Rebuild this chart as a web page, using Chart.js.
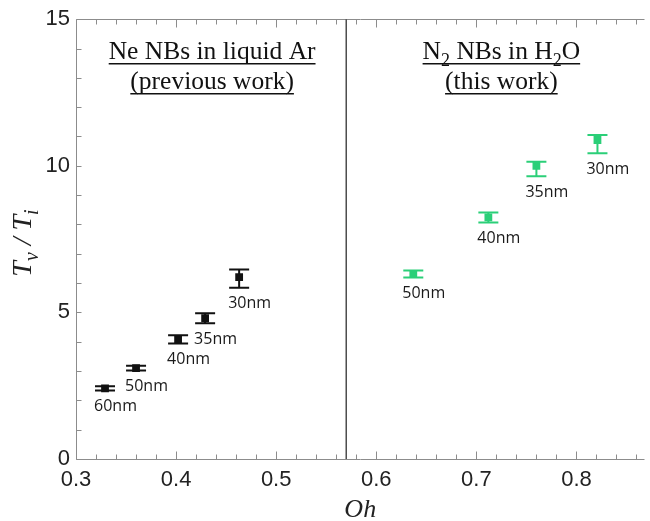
<!DOCTYPE html>
<html>
<head>
<meta charset="utf-8">
<script src="https://cdn.jsdelivr.net/npm/chart.js@4.4.0/dist/chart.umd.min.js"></script>
<style>
  html, body { margin: 0; padding: 0; background: #fff; }
  #wrap { width: 650px; height: 521px; }
</style>
</head>
<body>
<div id="wrap"><canvas id="plot"></canvas></div>
<script>
// Ne NBs in liquid Ar (previous work)
const prevOh = [0.329, 0.360, 0.402, 0.429, 0.463]
const prevRatio = [2.41, 3.10, 4.08, 4.80, 6.20]
const prevErrUp = [0.07, 0.08, 0.14, 0.17, 0.26]
const prevErrDown = [0.07, 0.08, 0.14, 0.17, 0.36]
const prevSize = ['60nm', '50nm', '40nm', '35nm', '30nm']

// N2 NBs in H2O (this work)
const thisOh = [0.637, 0.712, 0.760, 0.821]
const thisRatio = [6.31, 8.24, 10.00, 10.88]
const thisErrUp = [0.12, 0.17, 0.14, 0.17]
const thisErrDown = [0.12, 0.17, 0.36, 0.45]
const thisSize = ['50nm', '40nm', '35nm', '30nm']

const xTicks = [0.3, 0.4, 0.5, 0.6, 0.7, 0.8]
const yTicks = [0, 5, 10, 15]
const dividerOh = 0.57

const leftTitle = [
    [{t: 'Ne NBs in liquid Ar'}],
    [{t: '(previous work)'}]
]
const rightTitle = [
    [{t: 'N'}, {t: '2', sub: true}, {t: ' NBs in H'}, {t: '2', sub: true}, {t: 'O'}],
    [{t: '(this work)'}]
]

const BLACK = '#111111'
const GREEN = '#2bcf78'
const AXIS_GRAY = '#8c8c8c'

function toPoints(xs, ys) {
    return xs.map((x, i) => ({x: x, y: ys[i]}))
}

// draws a line of text with optional subscripts, centred on cx
function drawRich(ctx, segs, cx, baseY, size, family, style) {
    const subSize = Math.round(size * 0.72)
    let widths = segs.map(s => {
        ctx.font = `${style} ${s.sub ? subSize : size}px ${family}`
        return ctx.measureText(s.t).width
    })
    const total = widths.reduce((a, b) => a + b, 0)
    let x = cx - total / 2
    segs.forEach((s, i) => {
        ctx.font = `${style} ${s.sub ? subSize : size}px ${family}`
        ctx.fillText(s.t, x, baseY + (s.sub ? size * 0.25 : 0))
        x += widths[i]
    })
    return {x0: cx - total / 2, width: total}
}

const framePlugin = {
    id: 'frame',
    beforeDatasetsDraw(chart) {
        const {ctx, chartArea, scales} = chart
        const xs = scales.x, ys = scales.y
        const left = Math.round(chartArea.left) + 0.5
        const top = Math.round(chartArea.top) + 0.5
        const bottom = Math.round(chartArea.bottom) + 0.5
        const right = chartArea.right
        ctx.save()
        ctx.strokeStyle = AXIS_GRAY
        ctx.lineWidth = 1
        ctx.beginPath()
        ctx.moveTo(right, top); ctx.lineTo(left, top); ctx.lineTo(left, bottom); ctx.lineTo(right, bottom)
        ctx.stroke()

        // x ticks every 0.02, top and bottom, pointing inward
        ctx.beginPath()
        for (let k = 15; k * 0.02 <= xs.max + 1e-9; k++) {
            const px = Math.round(xs.getPixelForValue(k * 0.02)) + 0.5
            const len = k % 5 === 0 ? 8 : 5
            ctx.moveTo(px, bottom); ctx.lineTo(px, bottom - len)
            ctx.moveTo(px, top); ctx.lineTo(px, top + len)
        }
        // y ticks every 1
        for (let v = 0; v <= ys.max; v++) {
            const py = Math.round(ys.getPixelForValue(v)) + 0.5
            ctx.moveTo(left, py); ctx.lineTo(left + 5, py)
        }
        ctx.stroke()

        // divider between the two systems
        const dx = xs.getPixelForValue(dividerOh)
        ctx.strokeStyle = '#4d4d4d'
        ctx.lineWidth = 1.5
        ctx.beginPath()
        ctx.moveTo(dx, chartArea.top); ctx.lineTo(dx, chartArea.bottom)
        ctx.stroke()

        // error bars
        const bars = (oh, val, up, down, color) => {
            ctx.strokeStyle = color
            ctx.lineWidth = 2
            ctx.beginPath()
            oh.forEach((o, i) => {
                const px = xs.getPixelForValue(o)
                const t = ys.getPixelForValue(val[i] + up[i])
                const b = ys.getPixelForValue(val[i] - down[i])
                ctx.moveTo(px, t); ctx.lineTo(px, b)
                ctx.moveTo(px - 10, t); ctx.lineTo(px + 10, t)
                ctx.moveTo(px - 10, b); ctx.lineTo(px + 10, b)
            })
            ctx.stroke()
        }
        bars(prevOh, prevRatio, prevErrUp, prevErrDown, BLACK)
        bars(thisOh, thisRatio, thisErrUp, thisErrDown, GREEN)
        ctx.restore()
    },
    afterDraw(chart) {
        const {ctx, chartArea, scales} = chart
        const xs = scales.x, ys = scales.y
        ctx.save()
        ctx.fillStyle = '#1a1a1a'

        // size labels under each point
        ctx.font = '16px "Open Sans"'
        ctx.textAlign = 'left'
        ctx.textBaseline = 'middle'
        const sizes = (oh, val, down, names) => {
            oh.forEach((o, i) => {
                const px = xs.getPixelForValue(o)
                const b = ys.getPixelForValue(val[i] - down[i])
                ctx.fillText(names[i], px - 11, b + 16)
            })
        }
        sizes(prevOh, prevRatio, prevErrDown, prevSize)
        sizes(thisOh, thisRatio, thisErrDown, thisSize)

        // panel titles, underlined
        ctx.textBaseline = 'alphabetic'
        ctx.fillStyle = '#111'
        ctx.strokeStyle = '#111'
        ctx.lineWidth = 1.4
        const titles = (lines, oh) => {
            const cx = xs.getPixelForValue(oh)
            lines.forEach((segs, i) => {
                const base = chartArea.top + 40 + i * 30
                const m = drawRich(ctx, segs, cx, base, 25.5, '"Liberation Serif"', 'normal')
                ctx.beginPath()
                ctx.moveTo(m.x0, base + 4.5); ctx.lineTo(m.x0 + m.width, base + 4.5)
                ctx.stroke()
            })
        }
        titles(leftTitle, 0.436)
        titles(rightTitle, 0.725)

        // axis titles
        ctx.fillStyle = '#222'
        drawRich(ctx, [{t: 'Oh'}], (chartArea.left + chartArea.right) / 2, 517, 26, '"Liberation Serif"', 'italic')
        ctx.translate(22, 243)
        ctx.rotate(-Math.PI / 2)
        drawRich(ctx, [{t: 'T'}, {t: 'v', sub: true}, {t: ' / '}, {t: 'T'}, {t: 'i', sub: true}], 0, 9, 28, '"Liberation Serif"', 'italic')
        ctx.restore()
    }
}

new Chart(document.getElementById('plot'), {
    type: 'scatter',
    data: {
        datasets: [
            {data: toPoints(prevOh, prevRatio), backgroundColor: BLACK, borderColor: BLACK,
                pointStyle: 'rect', pointRadius: 5.5, borderWidth: 0},
            {data: toPoints(thisOh, thisRatio), backgroundColor: GREEN, borderColor: GREEN,
                pointStyle: 'rect', pointRadius: 5.5, borderWidth: 0}
        ]
    },
    options: {
        responsive: true,
        maintainAspectRatio: false,
        animation: false,
        layout: {padding: {top: 18, right: 0, left: 0, bottom: 0}},
        plugins: {legend: {display: false}, tooltip: {enabled: false}},
        scales: {
            x: {
                type: 'linear', min: 0.3, max: 0.868,
                afterBuildTicks: s => { s.ticks = xTicks.map(v => ({value: v})) },
                afterFit: s => { s.height = 62 },
                grid: {display: false, drawTicks: false},
                border: {display: false},
                ticks: {
                    font: {family: 'Liberation Sans', size: 22}, color: '#222', padding: 8,
                    maxRotation: 0, autoSkip: false, callback: v => v.toFixed(1)
                }
            },
            y: {
                min: 0, max: 15,
                afterBuildTicks: s => { s.ticks = yTicks.map(v => ({value: v})) },
                afterFit: s => { s.width = 76 },
                grid: {display: false, drawTicks: false},
                border: {display: false},
                ticks: {font: {family: 'Liberation Sans', size: 22}, color: '#222', padding: 6}
            }
        }
    },
    plugins: [framePlugin]
})
</script>
</body>
</html>
